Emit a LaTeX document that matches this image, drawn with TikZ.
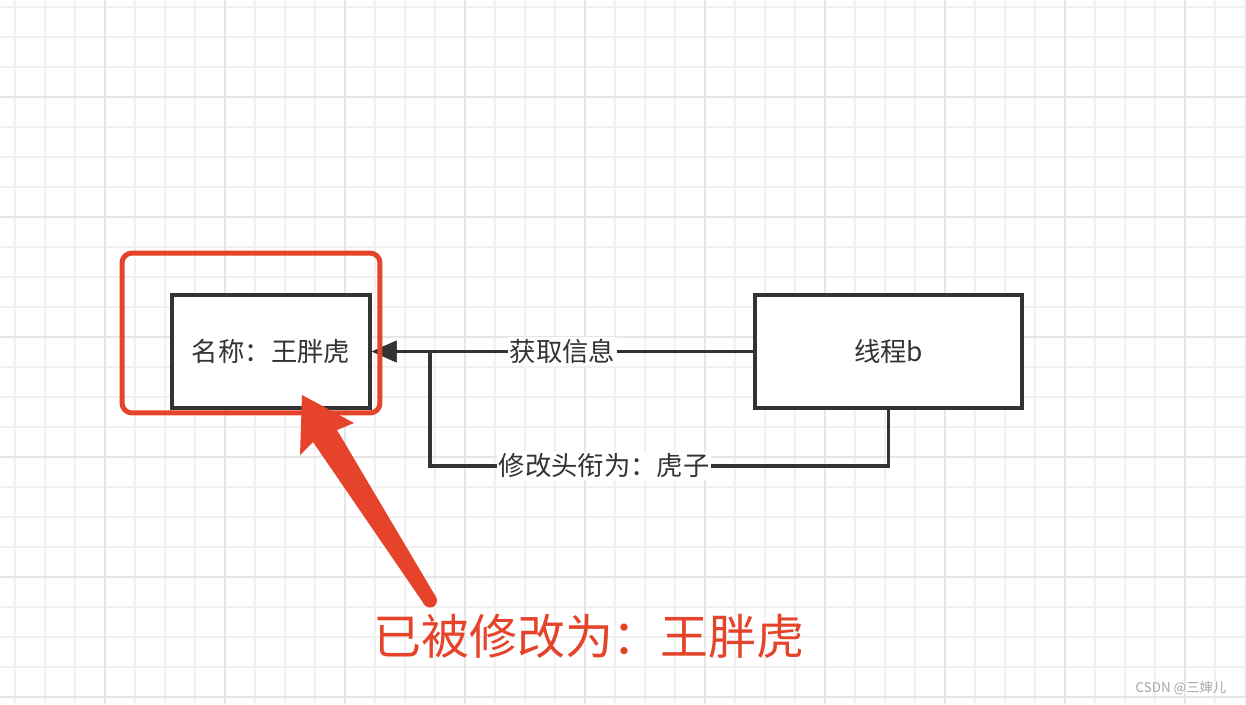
\documentclass[tikz,border=0pt]{standalone}
\usepackage{fontspec}
\setmainfont{Noto Sans CJK SC}
\usetikzlibrary{arrows.meta,positioning}
\definecolor{inkgray}{HTML}{333333}
\definecolor{markred}{HTML}{E5432A}
\definecolor{gridminor}{HTML}{F1F1F1}
\definecolor{gridmajor}{HTML}{E6E6E6}

\begin{document}
\begin{tikzpicture}[x=0.02cm, y=-0.02cm,
    box/.style={draw=inkgray, line width=0.07cm, fill=white, minimum height=2.26cm, inner sep=0pt,
                text=inkgray, font=\fontsize{15pt}{18pt}\selectfont},
    conn/.style={draw=inkgray, line width=0.07cm, -{Triangle[length=0.5cm,width=0.42cm]}},
    lbl/.style={fill=white, inner sep=1pt, text=inkgray, font=\fontsize{15pt}{18pt}\selectfont}]
  \useasboundingbox (0,0) rectangle (1246,704);
  \fill[white] (0,0) rectangle (1246,704);
  % grid
  \foreach \x in {15,45,...,1245} \draw[gridminor, line width=1pt] (\x,0) -- (\x,704);
  \foreach \y in {7,37,...,703} \draw[gridminor, line width=1pt] (0,\y) -- (1246,\y);
  \foreach \x in {105,225,...,1245} \draw[gridmajor, line width=1pt] (\x,0) -- (\x,704);
  \foreach \y in {97,217,...,703} \draw[gridmajor, line width=1pt] (0,\y) -- (1246,\y);

  % boxes
  \node[box, minimum width=3.96cm] (name) at (271,351.5) {名称：王胖虎};
  \node[box, minimum width=5.34cm] (threadb) at (888.5,351.5) {线程b};

  % connectors
  \draw[conn] (threadb.west) -- node[lbl] {获取信息} (name.east);
  \coordinate (bend) at (430,466);
  \draw[conn] (threadb.south) |- node[lbl, pos=0.81] {修改头衔为：虎子} (bend) |- (name.east);

  % red highlight
  \node[draw=markred, line width=0.1cm, rounded corners=0.2cm, minimum width=5.16cm, minimum height=3.2cm] (frame) at (251,333) {};
  \node[text=markred, font=\fontsize{27.3pt}{32pt}\selectfont] (changed) at (589,636) {已被修改为：王胖虎};
  \fill[markred] (302,395) -- (354,423) -- (337,430) -- (436,597) -- (424,604) -- (313,442) -- (300,455) -- cycle;
  \fill[markred] (430,600.5) circle (0.14cm);

  % watermark
  \node[text=gray!70, font=\fontsize{7.6pt}{9pt}\selectfont] (mark) at (1181,688) {CSDN @三婶儿};
\end{tikzpicture}
\end{document}
